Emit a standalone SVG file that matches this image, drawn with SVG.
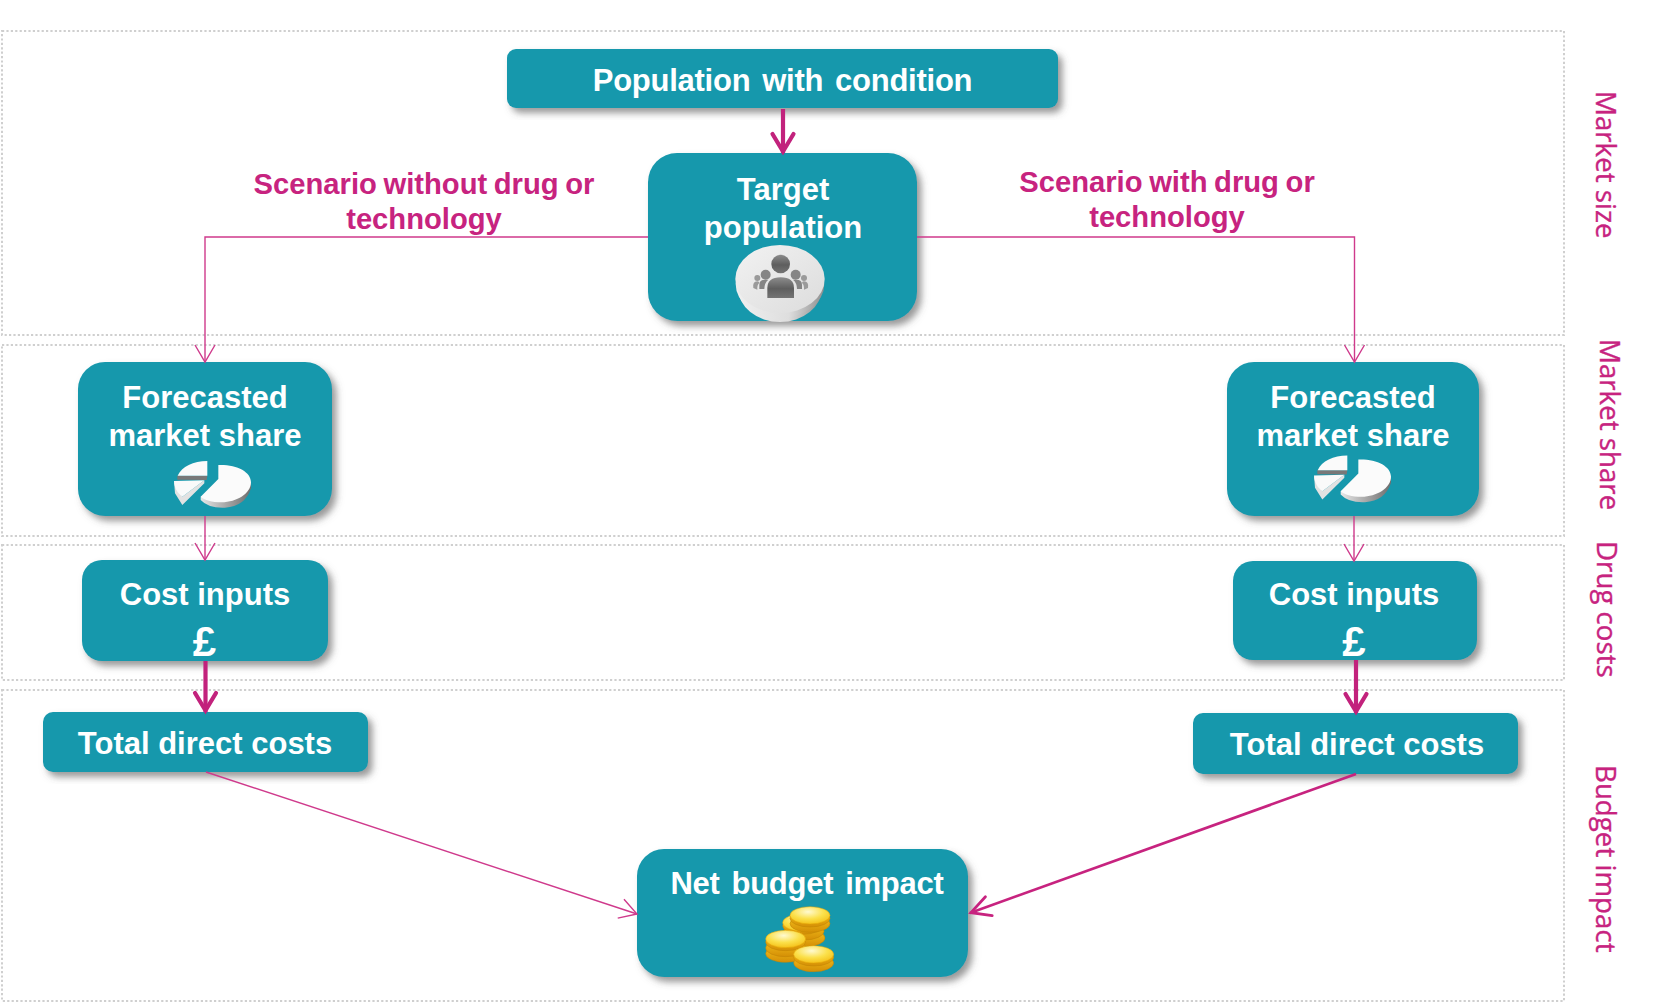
<svg xmlns="http://www.w3.org/2000/svg" xmlns:xlink="http://www.w3.org/1999/xlink" width="1664" height="1006" viewBox="0 0 1664 1006">
<style>
.row{fill:none;stroke:#cfcfcf;stroke-width:2;stroke-dasharray:2.2 2.2}
.box{fill:#1798ac;filter:url(#sh)}
.t{font-family:"Liberation Sans",Arial,sans-serif;font-weight:700;font-size:31px;fill:#fff;text-anchor:middle}
.w{letter-spacing:-.25px;word-spacing:3.5px}
.s{font-family:"Liberation Sans",Arial,sans-serif;font-weight:700;font-size:29.2px;fill:#c7237f;text-anchor:middle;word-spacing:-1.5px}
.side{font-family:"Open Sans","Noto Sans",sans-serif;font-size:27.7px;fill:#c7237f;stroke:#c7237f;stroke-width:.35}
.thin{fill:none;stroke:#cf3a8c;stroke-width:1.4}
.mid{fill:none;stroke:#c7237f;stroke-width:2.6}
.thick{fill:none;stroke:#c2227c;stroke-width:4.2}
.pound{font-size:42px}
</style>
<defs>
<filter id="sh" x="-10%" y="-10%" width="125%" height="130%"><feDropShadow dx="4.5" dy="5" stdDeviation="3.5" flood-color="#555" flood-opacity=".6"/></filter>
<marker id="hThin" markerUnits="userSpaceOnUse" viewBox="-20 -12 22 24" markerWidth="22" markerHeight="24" refX="0" refY="0" orient="auto"><path d="M-17,-10 L0,0 L-17,10" fill="none" stroke="#cf3a8c" stroke-width="1.4"/></marker>
<marker id="hMid" markerUnits="userSpaceOnUse" viewBox="-22 -14 26 28" markerWidth="26" markerHeight="28" refX="1" refY="0" orient="auto"><path d="M-19,-10 L0,0 L-19,10" fill="none" stroke="#c7237f" stroke-width="2.8" stroke-linecap="round"/></marker>
<marker id="hThick" markerUnits="userSpaceOnUse" viewBox="-22 -14 26 28" markerWidth="26" markerHeight="28" refX="1.5" refY="0" orient="auto"><path d="M-17.5,-10.5 L0,0 L-17.5,10.5" fill="none" stroke="#c2227c" stroke-width="4.2" stroke-linecap="round"/></marker>
<linearGradient id="gPeople" x1="0" y1="0" x2="0" y2="1"><stop offset="0" stop-color="#8c8c8c"/><stop offset=".55" stop-color="#5e5e5e"/><stop offset="1" stop-color="#747474"/></linearGradient>
<linearGradient id="gDisc" x1="0" y1="0" x2="1" y2="1"><stop offset="0" stop-color="#f2f2f2"/><stop offset="1" stop-color="#dcdcdc"/></linearGradient>
<linearGradient id="gRim" x1="0" y1="0" x2="1" y2="0"><stop offset="0" stop-color="#f0f0f0"/><stop offset=".6" stop-color="#dedede"/><stop offset="1" stop-color="#8f8f8f"/></linearGradient>
<linearGradient id="gPie" x1="0" y1="0" x2="1" y2="0"><stop offset="0" stop-color="#e8e8e8"/><stop offset=".5" stop-color="#a8a8a8"/><stop offset="1" stop-color="#6e6e6e"/></linearGradient>
<radialGradient id="gGold" cx=".45" cy=".3" r=".8"><stop offset="0" stop-color="#fffad0"/><stop offset=".5" stop-color="#fbe04a"/><stop offset="1" stop-color="#f3b90c"/></radialGradient>
<linearGradient id="gRimGold" x1="0" y1="0" x2="0" y2="1"><stop offset="0" stop-color="#f5c21c"/><stop offset="1" stop-color="#d48f06"/></linearGradient>
<g id="pie">
<path d="M107,125 L107,135 Q130,160 180,158 Q240,155 258,100 L258,82 Z" fill="url(#gPie)"/>
<path d="M160,30 C215,28 258,50 258,82 C258,115 215,142 170,142 C140,142 118,135 107,125 L160,72 Z" fill="#fbfbfb"/>
<path d="M37,62 L127,62 L125,75 L37,74 Z" fill="#787878"/>
<path d="M127,18 C85,18 50,35 38,62 L127,62 Z" fill="#fafafa"/>
<path d="M27,78 L30,115 L52,150 L118,85 L118,76 L52,125 Z" fill="#e2e2e2"/>
<path d="M27,78 L118,76 L52,125 C38,115 28,100 27,78 Z" fill="#fafafa"/>
</g>
<g id="rim"><ellipse cx="0" cy="9" rx="60" ry="26" fill="url(#gRimGold)" stroke="#c08404" stroke-width="1.5"/></g>
<g id="coin"><ellipse cx="0" cy="9" rx="60" ry="26" fill="url(#gRimGold)" stroke="#c08404" stroke-width="1.5"/><ellipse cx="0" cy="0" rx="60" ry="26" fill="url(#gGold)" stroke="#e3a207" stroke-width="1.5"/></g>
</defs>

<g id="bands">
<rect class="row" x="2" y="31" width="1562" height="304"/>
<rect class="row" x="2" y="345" width="1562" height="191"/>
<rect class="row" x="2" y="545" width="1562" height="135"/>
<rect class="row" x="2" y="690" width="1562" height="311"/>
</g>

<g id="node-population"><rect class="box" x="507" y="49" width="551" height="59" rx="9"/><text class="t w" x="782.5" y="91">Population with condition</text></g>

<g id="node-target"><rect class="box" x="648" y="153" width="269" height="168" rx="29"/>
<text class="t" x="783" y="200">Target</text><text class="t" x="783" y="238">population</text>
<g id="icon-people">
<ellipse cx="780" cy="288" rx="42" ry="34" fill="url(#gRim)"/>
<ellipse cx="780" cy="284" rx="44.3" ry="34" fill="url(#gRim)"/>
<ellipse cx="780" cy="279" rx="44.7" ry="34" fill="url(#gDisc)"/>
<g transform="translate(725,238) scale(.33333)">
<g fill="#9a9a9a"><circle cx="97" cy="120" r="9"/><circle cx="237" cy="120" r="9"/>
<path d="M85,150 Q82,130 97,130 Q103,130 103,135 Q96,140 97,155 Z"/><path d="M249,150 Q252,130 237,130 Q231,130 231,135 Q238,140 237,155 Z"/></g>
<g fill="#858585"><circle cx="122" cy="110" r="15"/><circle cx="212" cy="110" r="15"/>
<path d="M103,153 L103,140 Q103,125 120,125 L130,125 Q118,135 118,153 Z"/><path d="M231,153 L231,140 Q231,125 214,125 L204,125 Q216,135 216,153 Z"/></g>
<circle cx="167" cy="78" r="28" fill="url(#gPeople)"/>
<path d="M127,180 L127,150 Q127,118 167,118 Q207,118 207,150 L207,180 Z" fill="url(#gPeople)"/>
</g></g></g>

<g id="node-share-left"><rect class="box" x="78" y="362" width="254" height="154" rx="27"/>
<text class="t" x="205" y="408">Forecasted</text><text class="t" x="205" y="446">market share</text>
<use xlink:href="#pie" href="#pie" transform="translate(165,455) scale(.33333)"/></g>

<g id="node-share-right"><rect class="box" x="1227" y="362" width="252" height="154" rx="27"/>
<text class="t" x="1353" y="408">Forecasted</text><text class="t" x="1353" y="446">market share</text>
<use xlink:href="#pie" href="#pie" transform="translate(1305,449.5) scale(.33333)"/></g>

<g id="node-cost-left"><rect class="box" x="82" y="560" width="246" height="101" rx="20"/>
<text class="t" x="205" y="605">Cost inputs</text><text class="t pound" x="204.5" y="656">£</text></g>

<g id="node-cost-right"><rect class="box" x="1233" y="561" width="244" height="99" rx="20"/>
<text class="t" x="1354" y="605">Cost inputs</text><text class="t pound" x="1354" y="656">£</text></g>

<g id="node-total-left"><rect class="box" x="43" y="712" width="325" height="60" rx="10"/><text class="t" x="205" y="754">Total direct costs</text></g>
<g id="node-total-right"><rect class="box" x="1193" y="713" width="325" height="61" rx="10"/><text class="t" x="1357" y="755">Total direct costs</text></g>

<g id="node-net"><rect class="box" x="637" y="849" width="331" height="128" rx="27"/>
<text class="t w" x="807" y="894">Net budget impact</text>
<g id="icon-coins" transform="translate(755,900) scale(.33333)">
<use href="#rim" xlink:href="#rim" transform="translate(150,105)"/>
<use href="#rim" xlink:href="#rim" transform="translate(147,85)"/>
<use href="#coin" xlink:href="#coin" transform="translate(143,68)"/>
<use href="#rim" xlink:href="#rim" transform="translate(165,62)"/>
<use href="#coin" xlink:href="#coin" transform="translate(165,46)"/>
<use href="#rim" xlink:href="#rim" transform="translate(92,152)"/>
<use href="#rim" xlink:href="#rim" transform="translate(92,135)"/>
<use href="#coin" xlink:href="#coin" transform="translate(92,117)"/>
<use href="#rim" xlink:href="#rim" transform="translate(176,180)"/>
<use href="#coin" xlink:href="#coin" transform="translate(176,163)"/>
</g></g>

<g id="connectors">
<path class="thick" d="M783,109 V153" marker-end="url(#hThick)"/>
<path class="thin" d="M648,237 H205 V362" marker-end="url(#hThin)"/>
<path class="thin" d="M917,237 H1354.5 V362" marker-end="url(#hThin)"/>
<path class="thin" d="M205,516 V560" marker-end="url(#hThin)"/>
<path class="thin" d="M1354,516 V561" marker-end="url(#hThin)"/>
<path class="thick" d="M205.5,661 V712" marker-end="url(#hThick)"/>
<path class="thick" d="M1356,660 V713" marker-end="url(#hThick)"/>
<path class="thin" d="M206,772 L637,914" marker-end="url(#hThin)"/>
<path class="mid" d="M1356,774 L970,913" marker-end="url(#hMid)"/>
</g>

<g id="labels">
<text class="s" x="424" y="194">Scenario without drug or</text><text class="s" x="424" y="229">technology</text>
<text class="s" x="1167" y="192">Scenario with drug or</text><text class="s" x="1167" y="227">technology</text>
<text class="side" transform="translate(1596,91) rotate(90)">Market size</text>
<text class="side" transform="translate(1600,339) rotate(90)">Market share</text>
<text class="side" transform="translate(1597,541) rotate(90)">Drug costs</text>
<text class="side" transform="translate(1596,765) rotate(90)">Budget impact</text>
</g>
</svg>
